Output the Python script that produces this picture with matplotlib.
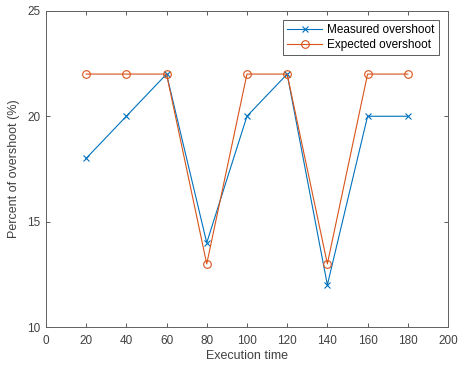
import numpy as np
import matplotlib.pyplot as plt

plt.rcParams['font.family'] = ['Liberation Sans', 'DejaVu Sans']

exec_time = [20, 40, 60, 80, 100, 120, 140, 160, 180]
measured = [18, 20, 22, 14, 20, 22, 12, 20, 20]
expected = [22, 22, 22, 13, 22, 22, 13, 22, 22]

blue = '#0072BD'
orange = '#D95319'
axcol = '#404040'

fig = plt.figure(figsize=(4.59, 3.73), dpi=100)
ax = fig.add_axes([0.100, 0.123, 0.876, 0.848])

ax.plot(exec_time, measured, color=blue, lw=0.8, marker='x', ms=4.5,
        mew=0.8, label='Measured overshoot')
ax.plot(exec_time, expected, color=orange, lw=0.8, marker='o', ms=5.5,
        mfc='none', mew=0.8, label='Expected overshoot')

ax.set_xlim(0, 200)
ax.set_ylim(10, 25)
ax.set_xticks(np.arange(0, 201, 20))
ax.set_yticks([10, 15, 20, 25])
ax.tick_params(direction='in', top=True, right=True, length=3, width=0.6,
               labelsize=8.5, colors=axcol, pad=4)
ax.tick_params(axis='x', pad=6)
for s in ax.spines.values():
    s.set_linewidth(0.7)
    s.set_color('#606060')

ax.set_xlabel('Execution time', fontsize=9, color=axcol, labelpad=2)
ax.set_ylabel('Percent of overshoot (%)', fontsize=9, color=axcol, labelpad=5)

leg = ax.legend(loc='upper right', fontsize=8.5, fancybox=False,
                edgecolor='#404040', framealpha=1, borderpad=0.35,
                handlelength=3, handletextpad=0.4, labelspacing=0.2,
                borderaxespad=0.8)
leg.get_frame().set_linewidth(0.6)

fig.savefig('out.png', dpi=100)
